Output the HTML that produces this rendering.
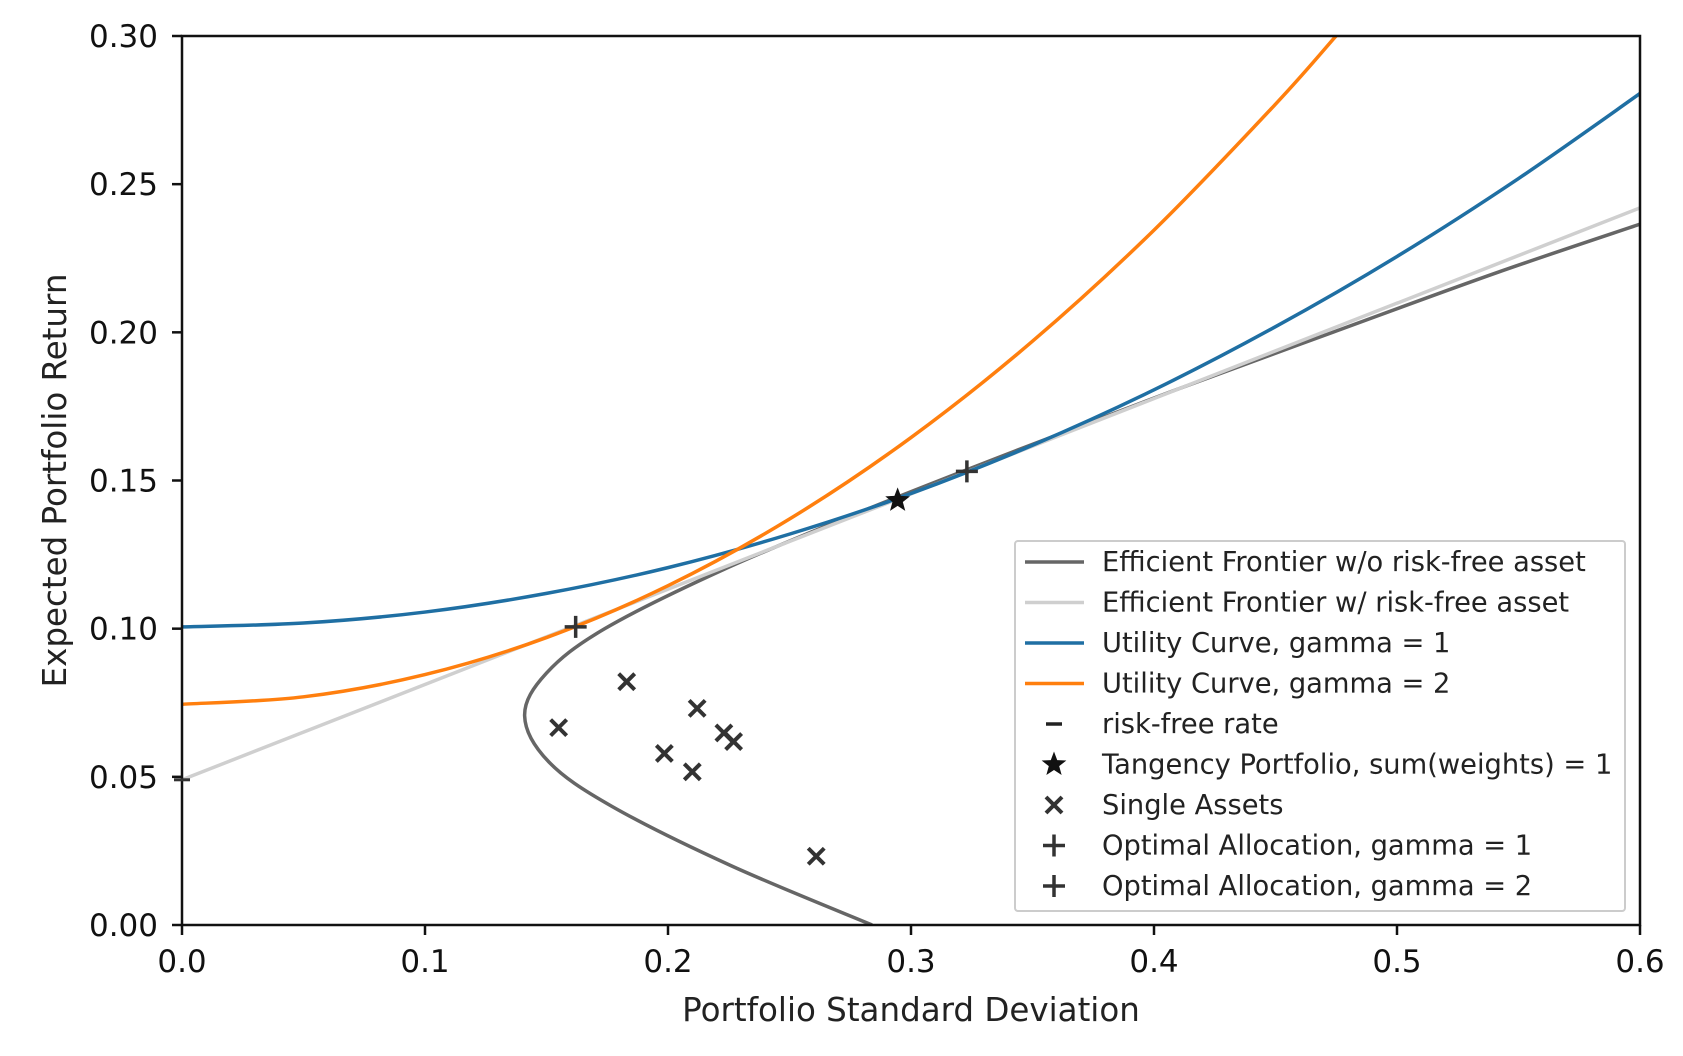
<!DOCTYPE html>
<html><head><meta charset="utf-8"><style>
html,body{margin:0;padding:0;background:#fff;}
svg{display:block;font-family:"DejaVu Sans","Liberation Sans",sans-serif;}
</style></head><body>
<svg id="chart" width="1683" height="1056" viewBox="0 0 1683 1056" xmlns="http://www.w3.org/2000/svg">
<rect x="0" y="0" width="1683" height="1056" fill="#fff"/>
<g id="plot"></g>
<g id="axes"></g>
<g id="legend"></g>
</svg>
<script>
// ---- data ----
const xTicks = [0.0, 0.1, 0.2, 0.3, 0.4, 0.5, 0.6];
const xTickLabels = ["0.0","0.1","0.2","0.3","0.4","0.5","0.6"];
const yTicks = [0.00, 0.05, 0.10, 0.15, 0.20, 0.25, 0.30];
const yTickLabels = ["0.00","0.05","0.10","0.15","0.20","0.25","0.30"];
// efficient frontier without risk-free asset
const frontierSd  = [0.284,0.226,0.177,0.151,0.141,0.150,0.174,0.223,0.281,0.343,0.407,0.4735,0.5406,0.600];
const frontierRet = [0.000,0.020,0.040,0.055,0.0706,0.085,0.100,0.120,0.140,0.160,0.180,0.200,0.220,0.2365];
// capital market line
const cmlSd  = [0.0, 0.6];
const cmlRet = [0.049, 0.242];
// utility curves
const utilSd = [0,0.05,0.1,0.15,0.2,0.25,0.3,0.35,0.4,0.45,0.5,0.55,0.6];
const util1Ret = [0.1006,0.1019,0.1056,0.1119,0.1206,0.1319,0.1456,0.1619,0.1806,0.2019,0.2256,0.2519,0.2806];
const util2Sd = [0,0.05,0.1,0.15,0.2,0.25,0.3,0.35,0.4,0.45,0.475];
const util2Ret = [0.0745,0.0770,0.0845,0.0970,0.1145,0.1370,0.1645,0.1970,0.2345,0.2770,0.3001];
// markers
const assetSd  = [0.155,0.183,0.1985,0.212,0.210,0.223,0.227,0.261];
const assetRet = [0.0666,0.0821,0.0579,0.0731,0.0517,0.0648,0.0619,0.0232];
const riskFree = [0.0, 0.049];
const tangency = [0.2945, 0.1433];
const optimal1 = [0.323, 0.1531];
const optimal2 = [0.162, 0.1006];

// ---- layout ----
const L=182, R=1640, T=36, B=925;
const X = v => L + (v-0)/(0.6)*(R-L);
const Y = v => B - (v-0)/(0.3)*(B-T);
const NS="http://www.w3.org/2000/svg";
function mk(tag, attrs, parent){const e=document.createElementNS(NS,tag);for(const k in attrs)e.setAttribute(k,attrs[k]);parent.appendChild(e);return e;}
const plot=document.getElementById('plot'), axes=document.getElementById('axes'), leg=document.getElementById('legend');

const defs=mk('defs',{},document.getElementById('chart'));
const cp=mk('clipPath',{id:'clip'},defs);
mk('rect',{x:L,y:T,width:R-L,height:B-T},cp);
plot.setAttribute('clip-path','url(#clip)');

function smoothPath(xs, ys){
  const p=xs.map((x,i)=>[X(x),Y(ys[i])]);
  let d=`M${p[0][0]},${p[0][1]}`;
  for(let i=0;i<p.length-1;i++){
    const p0=p[Math.max(i-1,0)],p1=p[i],p2=p[i+1],p3=p[Math.min(i+2,p.length-1)];
    const c1=[p1[0]+(p2[0]-p0[0])/6,p1[1]+(p2[1]-p0[1])/6];
    const c2=[p2[0]-(p3[0]-p1[0])/6,p2[1]-(p3[1]-p1[1])/6];
    d+=` C${c1[0]},${c1[1]} ${c2[0]},${c2[1]} ${p2[0]},${p2[1]}`;
  }
  return d;
}
let el;
el=mk('path',{d:smoothPath(frontierSd,frontierRet),fill:'none',stroke:'#666','stroke-width':3.5},plot);


el=mk('path',{d:smoothPath(cmlSd,cmlRet),fill:'none',stroke:'#cfcfcf','stroke-width':3.5},plot);


el=mk('path',{d:smoothPath(utilSd,util1Ret),fill:'none',stroke:'#1f6fa3','stroke-width':3.5},plot);


el=mk('path',{d:smoothPath(util2Sd,util2Ret),fill:'none',stroke:'#ff7f0e','stroke-width':3.5},plot);



function xMark(cx,cy,g,s){mk('path',{d:`M${cx-s},${cy-s}L${cx+s},${cy+s}M${cx-s},${cy+s}L${cx+s},${cy-s}`,stroke:'#333','stroke-width':4},g);}
function plusMark(cx,cy,g,s){mk('path',{d:`M${cx-s},${cy}L${cx+s},${cy}M${cx},${cy-s}L${cx},${cy+s}`,stroke:'#333','stroke-width':3.5},g);}
function star(cx,cy,g,r){let d='';for(let i=0;i<10;i++){const a=-Math.PI/2+i*Math.PI/5;const rr=i%2?r*0.42:r;d+=(i?'L':'M')+(cx+rr*Math.cos(a))+','+(cy+rr*Math.sin(a));}mk('path',{d:d+'Z',fill:'#111'},g);}

const mg=mk('g',{},document.getElementById('chart'));


assetSd.forEach((s,i)=>{
  const g=mk('g',{},mg);
  
  
  xMark(X(s),Y(assetRet[i]),g,8);
});
el=mk('path',{d:`M${X(riskFree[0])-8},${Y(riskFree[1])}L${X(riskFree[0])+8},${Y(riskFree[1])}`,stroke:'#333','stroke-width':3},mg);


let g1=mk('g',{},mg);


star(X(tangency[0]),Y(tangency[1]),g1,13);
let g2=mk('g',{},mg);


plusMark(X(optimal1[0]),Y(optimal1[1]),g2,11);
let g3=mk('g',{},mg);


plusMark(X(optimal2[0]),Y(optimal2[1]),g3,11);

// axes frame
el=mk('rect',{x:L,y:T,width:R-L,height:B-T,fill:'none',stroke:'#111','stroke-width':2.5},axes);


xTicks.forEach((v,i)=>{
  mk('line',{x1:X(v),x2:X(v),y1:B,y2:B+10,stroke:'#111','stroke-width':2.5},axes);
  el=mk('text',{x:X(v),y:972,'text-anchor':'middle','font-size':31,fill:'#111'},axes);
  el.textContent=xTickLabels[i];
  
  
});
yTicks.forEach((v,i)=>{
  mk('line',{x1:L-10,x2:L,y1:Y(v),y2:Y(v),stroke:'#111','stroke-width':2.5},axes);
  el=mk('text',{x:158,y:Y(v)+11,'text-anchor':'end','font-size':31,fill:'#111'},axes);
  el.textContent=yTickLabels[i];
  
  
});
el=mk('text',{x:(L+R)/2,y:1021,'text-anchor':'middle','font-size':32.5,fill:'#222'},axes);
el.textContent='Portfolio Standard Deviation';


el=mk('text',{x:0,y:0,'text-anchor':'middle','font-size':32.5,fill:'#222',transform:`translate(66,${(T+B)/2}) rotate(-90)`},axes);
el.textContent='Expected Portfolio Return';



// legend
el=mk('rect',{x:1015,y:541,width:610,height:370,fill:'#fff','fill-opacity':0.85,stroke:'#ccc','stroke-width':2,rx:3},leg);


const legLabels=["Efficient Frontier w/o risk-free asset","Efficient Frontier w/ risk-free asset","Utility Curve, gamma = 1","Utility Curve, gamma = 2","risk-free rate","Tangency Portfolio, sum(weights) = 1","Single Assets","Optimal Allocation, gamma = 1","Optimal Allocation, gamma = 2"];
legLabels.forEach((t,i)=>{
  const y=562+i*40.5;
  const g=mk('g',{},leg);
  
  
  const cx=1054;
  if(i===0) mk('line',{x1:1025,x2:1084,y1:y,y2:y,stroke:'#666','stroke-width':3.5},g);
  if(i===1) mk('line',{x1:1025,x2:1084,y1:y,y2:y,stroke:'#cfcfcf','stroke-width':3.5},g);
  if(i===2) mk('line',{x1:1025,x2:1084,y1:y,y2:y,stroke:'#1f6fa3','stroke-width':3.5},g);
  if(i===3) mk('line',{x1:1025,x2:1084,y1:y,y2:y,stroke:'#ff7f0e','stroke-width':3.5},g);
  if(i===4) mk('line',{x1:cx-8,x2:cx+8,y1:y,y2:y,stroke:'#222','stroke-width':3.5},g);
  if(i===5) star(cx,y,g,13);
  if(i===6) xMark(cx,y,g,8);
  if(i===7||i===8) plusMark(cx,y,g,11);
  const tx=mk('text',{x:1102,y:y+9,'font-size':27.3,fill:'#222'},g);
  tx.textContent=t;
});
</script>
</body></html>
